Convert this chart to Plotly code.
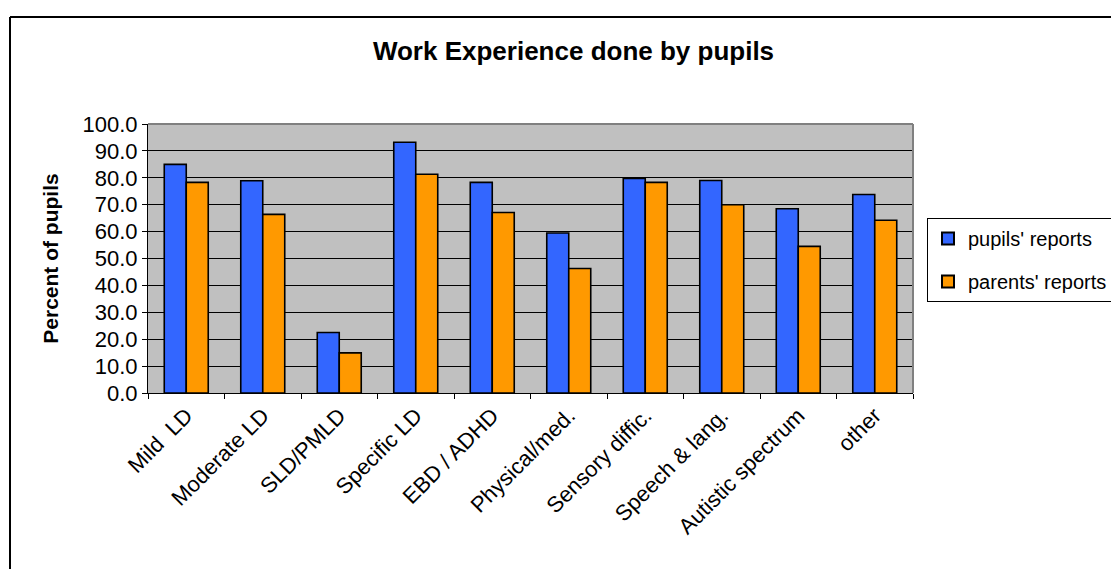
import plotly.graph_objects as go

categories = ["Mild  LD", "Moderate LD", "SLD/PMLD", "Specific LD", "EBD / ADHD",
              "Physical/med.", "Sensory diffic.", "Speech & lang.", "Autistic spectrum", "other"]
pupils = [85.0, 78.9, 22.5, 93.2, 78.3, 59.5, 79.8, 79.0, 68.5, 73.8]
parents = [78.3, 66.4, 14.9, 81.3, 67.1, 46.3, 78.3, 70.0, 54.5, 64.2]

# page has an 8px body margin; work in figure coordinates
W, H = 1111, 561
L, R, T, B = 140, 905, 116, 385

def px(x):
    return (x - L) / (R - L)

def py(y):
    return (B - y) / (B - T)

font = "Liberation Sans, Arial, sans-serif"

fig = go.Figure()
fig.add_trace(go.Bar(name="pupils' reports", x=categories, y=pupils, legendgroup="a",
                     marker=dict(color="#3366FF", line=dict(color="black", width=1.6))))
fig.add_trace(go.Bar(name="parents' reports", x=categories, y=parents, legendgroup="b",
                     marker=dict(color="#FF9900", line=dict(color="black", width=1.6))))

fig.update_layout(
    width=W, height=H,
    margin=dict(l=L, r=W - R, t=T, b=H - B),
    paper_bgcolor="white", plot_bgcolor="#C0C0C0",
    barmode="group", bargap=0.425, bargroupgap=0,
    font=dict(family=font, size=20, color="black"),
    title=dict(text="<b>Work Experience done by pupils</b>", x=565.5 / W, xanchor="center",
               y=1 - 43 / H, yanchor="middle", font=dict(size=26, family=font)),
    xaxis=dict(tickangle=-45, tickson="boundaries", ticks="outside", ticklen=5,
               tickcolor="black", showline=True, linecolor="black", linewidth=1,
               showgrid=False, mirror=False, tickfont=dict(size=22)),
    yaxis=dict(range=[0, 100], dtick=10, tickformat=".1f", ticks="outside", ticklen=5,
               tickcolor="black", showline=True, linecolor="black", linewidth=1,
               showgrid=True, gridcolor="black", gridwidth=1, zeroline=False,
               tickfont=dict(size=22),
               title=dict(text="<b>Percent of pupils</b>", font=dict(size=21), standoff=18)),
    legend=dict(xref="container", yref="container", x=919 / W, y=1 - 210 / H,
                xanchor="left", yanchor="top",
                bordercolor="black", borderwidth=1, bgcolor="white",
                font=dict(size=20), itemsizing="constant", tracegroupgap=14),
    showlegend=True,
)

# plot area top/right border (gray)
fig.add_shape(type="line", xref="paper", yref="paper", x0=0, x1=1, y0=1, y1=1,
              line=dict(color="#808080", width=2))
fig.add_shape(type="line", xref="paper", yref="paper", x0=1, x1=1, y0=0, y1=1,
              line=dict(color="#808080", width=2))
# outer chart border
fig.add_shape(type="line", xref="paper", yref="paper", x0=px(2), x1=px(1120),
              y0=py(9), y1=py(9), line=dict(color="black", width=2))
fig.add_shape(type="line", xref="paper", yref="paper", x0=px(2), x1=px(2),
              y0=py(9), y1=py(570), line=dict(color="black", width=2))

fig.write_html("out.html")
